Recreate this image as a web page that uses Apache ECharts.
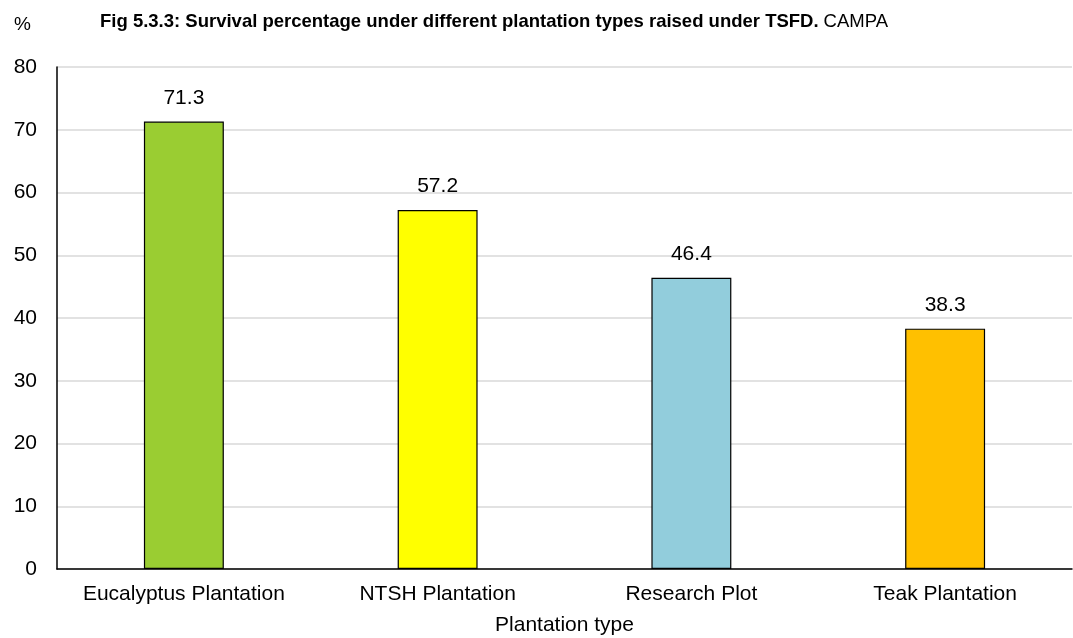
<!DOCTYPE html>
<html>
<head>
<meta charset="utf-8">
<script src="https://cdn.jsdelivr.net/npm/echarts@6/dist/echarts.min.js"></script>
<style>
  html, body { margin: 0; padding: 0; background: #fff; }
  #chart { width: 1073px; height: 638px; }
</style>
</head>
<body>
<div id="chart"></div>
<script>
// plantation types and survival %
const categories = ['Eucalyptus Plantation', 'NTSH Plantation', 'Research Plot', 'Teak Plantation']
const survival = [71.3, 57.2, 46.4, 38.3]
const barColors = ['#9acd32', '#ffff00', '#92cddc', '#ffc000']

const chart = echarts.init(document.getElementById('chart'))
const font = 'Liberation Sans, Arial, sans-serif'

const option = {
  animation: false,
  textStyle: { fontFamily: font },
  title: [
    {
      text: '%',
      left: 9,
      top: 10,
      textStyle: { fontSize: 19, fontWeight: 'normal', color: '#000', fontFamily: font }
    },
    {
      text: '{b|Fig 5.3.3: Survival percentage under different plantation types raised under TSFD.} {n|CAMPA}',
      left: 95,
      top: 7,
      textStyle: {
        rich: {
          b: { fontSize: 18.5, fontWeight: 'bold', color: '#000', fontFamily: font },
          n: { fontSize: 18.5, fontWeight: 'normal', color: '#000', fontFamily: font }
        }
      }
    }
  ],
  grid: { left: 57, right: 1, top: 67, bottom: 69, outerBoundsMode: 'none' },
  xAxis: {
    type: 'category',
    data: categories,
    name: 'Plantation type',
    nameLocation: 'middle',
    nameGap: 46,
    nameTextStyle: { fontSize: 21, color: '#000' },
    axisLine: { lineStyle: { color: '#000', width: 1.5 } },
    axisTick: { show: false },
    axisLabel: { fontSize: 21, color: '#000', margin: 15, interval: 0 }
  },
  yAxis: {
    type: 'value',
    min: 0,
    max: 80,
    interval: 10,
    axisLine: { show: true, lineStyle: { color: '#000', width: 1.5 } },
    axisTick: { show: false },
    axisLabel: { fontSize: 21, color: '#000', margin: 20 },
    splitLine: { lineStyle: { color: '#d9d9d9', width: 1.5 } }
  },
  series: [{
    type: 'bar',
    barWidth: '31.5%',
    data: survival.map((v, i) => ({
      value: v,
      itemStyle: { color: barColors[i] }
    })),
    itemStyle: { borderColor: '#000', borderWidth: 1.2 },
    label: {
      show: true,
      position: 'top',
      distance: 13,
      fontSize: 21,
      color: '#000',
      formatter: p => p.value.toFixed(1)
    }
  }]
}

chart.setOption(option)
</script>
</body>
</html>
